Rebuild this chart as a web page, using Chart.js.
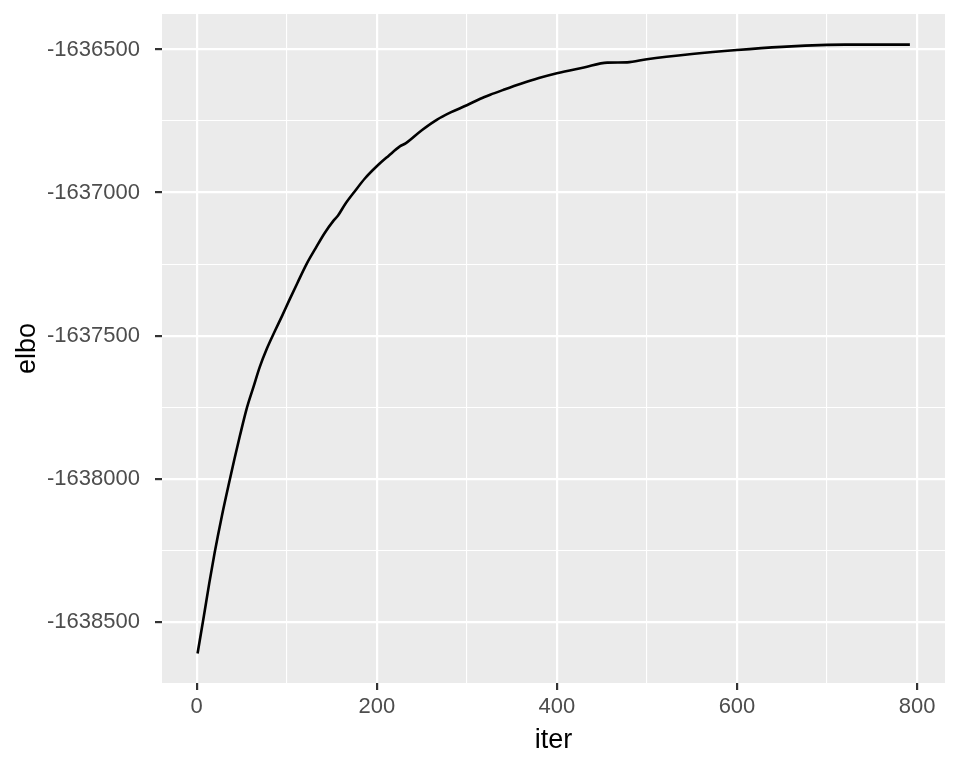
<!DOCTYPE html>
<html>
<head>
<meta charset="utf-8">
<script src="https://cdn.jsdelivr.net/npm/chart.js@4.4.1/dist/chart.umd.min.js"></script>
<style>
  html, body { margin: 0; padding: 0; background: #fff; }
  canvas { display: block; }
</style>
</head>
<body>
<canvas id="chart" width="960" height="768"></canvas>
<script>
// values
const iters = [1, 8, 14, 20, 28, 37, 42, 48, 56, 63, 70, 78, 87, 95, 103, 112, 122, 132, 142, 152,
  157, 165, 175, 187, 200, 213, 226, 232, 250, 267, 282, 300, 315, 326, 340, 360, 380, 400, 430,
  456, 478, 500, 550, 600, 650, 700, 720, 792];
const elbo = [-1638611, -1638480, -1638365, -1638258, -1638130, -1638000, -1637930, -1637850,
  -1637750, -1637680, -1637610, -1637545, -1637483, -1637430, -1637375, -1637315, -1637250,
  -1637195, -1637142, -1637098, -1637080, -1637040, -1636998, -1636950, -1636908, -1636872,
  -1636838, -1636828, -1636782, -1636745, -1636720, -1636695, -1636672, -1636658, -1636642,
  -1636620, -1636600, -1636583, -1636563, -1636546, -1636545, -1636534, -1636516, -1636502,
  -1636491, -1636484, -1636483, -1636483];
const xTicks = [0, 200, 400, 600, 800];
const yTicks = [-1638500, -1638000, -1637500, -1637000, -1636500];

const FONT = "'Liberation Sans', Arial, Helvetica, sans-serif";

const panelBg = {
  id: 'panelBg',
  beforeDraw(chart) {
    const { ctx, chartArea: a } = chart;
    ctx.save();
    ctx.fillStyle = '#EBEBEB';
    ctx.fillRect(a.left, a.top, a.right - a.left, a.bottom - a.top);
    ctx.restore();
  }
};

const isMajor = (v, list) => list.includes(v);

new Chart(document.getElementById('chart'), {
  type: 'line',
  data: {
    datasets: [{
      data: iters.map((x, i) => ({ x: x, y: elbo[i] })),
      borderColor: '#000000',
      borderWidth: 2.6,
      pointRadius: 0,
      cubicInterpolationMode: 'monotone',
      fill: false
    }]
  },
  options: {
    responsive: false,
    animation: false,
    layout: { padding: { top: 14, right: 15, left: 0, bottom: 0 } },
    plugins: { legend: { display: false }, tooltip: { enabled: false } },
    scales: {
      x: {
        type: 'linear',
        min: -38.5,
        max: 831,
        afterFit: (s) => { s.height = 85; s.paddingLeft = 0; s.paddingRight = 0; },
        border: { display: false },
        grid: {
          color: '#FFFFFF',
          lineWidth: (c) => isMajor(c.tick.value, xTicks) ? 2.2 : 1.1,
          tickLength: 7,
          tickColor: (c) => isMajor(c.tick.value, xTicks) ? '#333333' : 'rgba(0,0,0,0)',
          tickWidth: 2.2
        },
        ticks: {
          stepSize: 100,
          includeBounds: false,
          autoSkip: false,
          maxRotation: 0,
          padding: 4,
          color: '#4D4D4D',
          font: { family: FONT, size: 22 },
          callback: (v) => isMajor(v, xTicks) ? String(v) : ''
        },
        title: {
          display: true,
          text: 'iter',
          color: '#000000',
          font: { family: FONT, size: 27 },
          padding: { top: 0, bottom: 11 }
        }
      },
      y: {
        type: 'linear',
        min: -1638714,
        max: -1636376,
        afterFit: (s) => { s.width = 162; s.paddingTop = 0; s.paddingBottom = 0; },
        border: { display: false },
        grid: {
          color: '#FFFFFF',
          lineWidth: (c) => isMajor(c.tick.value, yTicks) ? 2.2 : 1.1,
          tickLength: 7,
          tickColor: (c) => isMajor(c.tick.value, yTicks) ? '#333333' : 'rgba(0,0,0,0)',
          tickWidth: 2.2
        },
        ticks: {
          stepSize: 250,
          includeBounds: false,
          autoSkip: false,
          padding: 15,
          color: '#4D4D4D',
          font: { family: FONT, size: 22 },
          callback: (v) => isMajor(v, yTicks) ? String(v) : ''
        },
        title: {
          display: true,
          text: 'elbo',
          color: '#000000',
          font: { family: FONT, size: 27 },
          padding: { top: 11, bottom: 0 }
        }
      }
    }
  },
  plugins: [panelBg]
});
</script>
</body>
</html>
